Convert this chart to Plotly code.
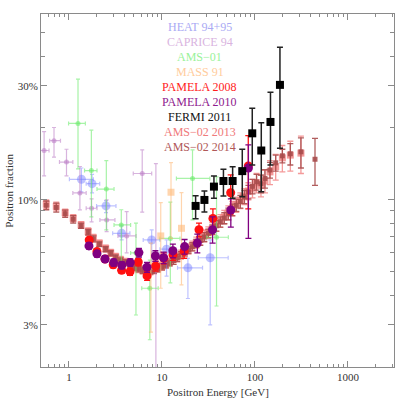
import plotly.graph_objects as go

# ---- data ----
heat_E = [1.36, 1.77, 2.5, 3.68, 7.75, 11.2, 19.0, 33.0]
heat_Elo = [1.01, 1.53, 1.98, 2.95, 6.28, 9.5, 14.7, 24.6]
heat_Ehi = [1.83, 2.14, 3.20, 4.52, 9.51, 13.5, 27.3, 51.5]
heat_f = [0.122, 0.117, 0.0944, 0.0725, 0.068, 0.0622, 0.052, 0.0573]
heat_hi = [0.136, 0.128, 0.0993, 0.078, 0.075, 0.068, 0.057, 0.068]
heat_lo = [0.108, 0.107, 0.0885, 0.068, 0.055, 0.048, 0.0387, 0.030]

caprice_E = [0.54, 0.69, 0.94, 1.31, 1.75, 2.54, 4.17, 6.13, 8.6]
caprice_Elo = [0.47, 0.62, 0.79, 1.10, 1.53, 2.15, 3.36, 4.91, 7.75]
caprice_Ehi = [0.61, 0.81, 1.10, 1.53, 2.0, 3.12, 5.26, 7.75, 9.6]
caprice_f = [0.161, 0.177, 0.144, 0.107, 0.0923, 0.0825, 0.0707, 0.129, 0.060]
caprice_hi = [0.193, 0.201, 0.163, 0.138, 0.101, 0.100, 0.0894, 0.162, 0.142]
caprice_lo = [0.126, 0.151, 0.126, 0.0908, 0.081, 0.0737, 0.060, 0.089, 0.012]

ams01_E = [1.25, 1.74, 2.52, 3.65, 5.25, 7.4, 12.3, 21.3, 38.6]
ams01_Elo = [0.99, 1.47, 2.0, 3.05, 4.6, 6.06, 9.5, 14.3, 30.3]
ams01_Ehi = [1.50, 2.0, 3.05, 4.6, 6.0, 9.1, 15.6, 32.7, 51.7]
ams01_f = [0.209, 0.1327, 0.111, 0.0786, 0.060, 0.0427, 0.069, 0.123, 0.0698]
ams01_hi = [0.320, 0.196, 0.146, 0.091, 0.080, 0.056, 0.098, 0.162, 0.125]
ams01_lo = [0.135, 0.085, 0.075, 0.0526, 0.033, 0.026, 0.045, 0.0825, 0.036]

mass_E = [7.6, 9.7, 12.5, 16.2]
mass_f = [0.053, 0.0707, 0.1077, 0.0761]
mass_hi = [0.066, 0.0974, 0.1432, 0.1073]
mass_lo = [0.028, 0.0427, 0.0691, 0.0441]

pam08_E = [1.65, 2.0, 2.44, 2.99, 3.68, 4.53, 5.56, 6.91, 8.55, 10.46, 13.14, 17.3, 25.0, 35.3, 54.8, 84.7]
pam08_f = [0.068, 0.0609, 0.0566, 0.0535, 0.0508, 0.0501, 0.055, 0.0481, 0.0529, 0.057, 0.0589, 0.061, 0.075, 0.0837, 0.1072, 0.1388]
pam08_err = [0.0015, 0.0015, 0.0015, 0.0015, 0.0015, 0.0017, 0.002, 0.002, 0.0025, 0.003, 0.003, 0.004, 0.005, 0.008, 0.02, 0.047]

pam10_E = [1.64, 2.0, 2.44, 3.02, 3.7, 4.56, 5.65, 6.9, 8.5, 10.4, 13.1, 17.5, 24.0, 35.0, 55.0, 85.0]
pam10_f = [0.0642, 0.0595, 0.0566, 0.0547, 0.0533, 0.0547, 0.0602, 0.0523, 0.0583, 0.0573, 0.0613, 0.0638, 0.066, 0.075, 0.0908, 0.136]
pam10_hi = [0.0662, 0.0613, 0.0584, 0.0565, 0.0551, 0.0567, 0.0627, 0.0548, 0.0613, 0.0605, 0.0653, 0.0683, 0.072, 0.085, 0.101, 0.17]
pam10_lo = [0.0622, 0.0577, 0.0548, 0.0529, 0.0515, 0.0527, 0.0577, 0.0498, 0.0553, 0.0541, 0.0573, 0.0593, 0.060, 0.066, 0.077, 0.069]

fermi_E = [23.0, 28.6, 36.2, 45.8, 57.5, 73.0, 93.5, 116.9, 146.8, 185.6]
fermi_f = [0.0944, 0.100, 0.1137, 0.120, 0.120, 0.132, 0.190, 0.161, 0.212, 0.303]
fermi_hi = [0.1042, 0.1091, 0.126, 0.1344, 0.1378, 0.163, 0.2419, 0.2106, 0.2822, 0.4353]
fermi_lo = [0.0835, 0.0891, 0.1016, 0.1039, 0.1016, 0.1032, 0.140, 0.1083, 0.140, 0.1645]

ams13_E = [0.57, 0.73, 0.91, 1.11, 1.35, 1.61, 1.83, 2.12, 2.48, 2.81, 3.18, 3.59, 4.07, 4.61,
           5.1, 5.6, 6.2, 6.85, 7.5, 8.2, 9.0, 10.0, 11.0, 12.1, 13.3, 14.6, 16.0, 17.6, 19.3,
           21.2, 23.4, 25.8, 28.5, 31.5, 34.8, 38.4, 42.4, 46.8, 51.7, 57.1, 63.0, 69.6, 77.0,
           85.0, 94.0, 104.0, 116.0, 128.0, 145.0, 167.0, 197.0, 240.0, 312.0]
ams13_f = [0.0960, 0.0940, 0.0885, 0.0838, 0.0786, 0.0738, 0.0693, 0.0659, 0.0627, 0.0601, 0.0578,
           0.0561, 0.0549, 0.0536, 0.0525, 0.0517, 0.0510, 0.0507, 0.0506, 0.0511, 0.0519, 0.0528,
           0.0539, 0.0550, 0.0563, 0.0577, 0.0592, 0.0608, 0.0623, 0.0643, 0.0664, 0.0683, 0.0707,
           0.0731, 0.0759, 0.0788, 0.0818, 0.0850, 0.0885, 0.0920, 0.0958, 0.0995, 0.1035, 0.1090,
           0.1120, 0.1180, 0.1150, 0.1200, 0.1310, 0.1380, 0.1500, 0.1540, 0.1570]
ams13_err = [0.004, 0.004, 0.003, 0.003, 0.0025, 0.0025, 0.0025, 0.002, 0.002, 0.002, 0.002,
             0.002, 0.002, 0.002, 0.002, 0.002, 0.002, 0.002, 0.002, 0.002, 0.002, 0.002,
             0.002, 0.002, 0.0025, 0.0025, 0.0025, 0.003, 0.003, 0.003, 0.0035, 0.0035, 0.004,
             0.004, 0.0045, 0.005, 0.005, 0.0055, 0.006, 0.0065, 0.007, 0.0075, 0.008, 0.009,
             0.010, 0.011, 0.012, 0.013, 0.015, 0.017, 0.019, 0.022, 0.028]

ams14_E = [0.57, 0.73, 0.91, 1.11, 1.35, 1.61, 1.83, 2.12, 2.48, 2.81, 3.18, 3.59, 4.07, 4.61,
           5.1, 5.6, 6.2, 6.85, 7.5, 8.2, 9.0, 10.0, 11.0, 12.1, 13.3, 14.6, 16.0, 17.6, 19.3,
           21.2, 23.4, 25.8, 28.5, 31.5, 34.8, 38.4, 42.4, 46.8, 51.7, 57.1, 63.0, 69.6, 77.0,
           85.0, 94.0, 104.0, 116.0, 128.0, 145.0, 167.0, 197.0, 240.0, 312.0, 442.0]
ams14_f = [0.0950, 0.0930, 0.0876, 0.0830, 0.0780, 0.0732, 0.0687, 0.0653, 0.0622, 0.0598, 0.0574,
           0.0557, 0.0547, 0.0533, 0.0522, 0.0515, 0.0508, 0.0505, 0.0504, 0.0508, 0.0515, 0.0525,
           0.0535, 0.0545, 0.0558, 0.0572, 0.0588, 0.0603, 0.0618, 0.0637, 0.0658, 0.0676, 0.0700,
           0.0725, 0.0752, 0.0780, 0.0810, 0.0840, 0.0875, 0.0910, 0.0950, 0.0985, 0.1030, 0.1080,
           0.1140, 0.1190, 0.1170, 0.1230, 0.1335, 0.1430, 0.1530, 0.1560, 0.1590, 0.1480]
ams14_err = [0.004, 0.004, 0.003, 0.003, 0.002, 0.002, 0.002, 0.0015, 0.0015, 0.0015, 0.0015,
             0.0015, 0.0015, 0.0015, 0.0015, 0.0015, 0.0015, 0.0015, 0.0015, 0.0015, 0.0015, 0.0015,
             0.0015, 0.0015, 0.002, 0.002, 0.002, 0.002, 0.002, 0.0025, 0.0025, 0.003, 0.003,
             0.003, 0.0035, 0.004, 0.004, 0.0045, 0.005, 0.005, 0.0055, 0.006, 0.0065, 0.007,
             0.008, 0.009, 0.010, 0.011, 0.010, 0.011, 0.010, 0.016, 0.023, 0.033]

legend_labels = ["HEAT 94+95", "CAPRICE 94", "AMS\u221201", "MASS 91", "PAMELA 2008",
                 "PAMELA 2010", "FERMI 2011", "AMS\u221202 2013", "AMS\u221202 2014"]
legend_colors = ["#aaaaf4", "#d9b4e0", "#99f299", "#ffcc9c", "#ff1c1c",
                 "#8e1a8e", "#111111", "#f07a7a", "#b05858"]

x_major = [1, 10, 100, 1000]
x_minor = [m * d for d in (0.1, 1, 10, 100, 1000) for m in range(2, 10)]
y_major = [0.03, 0.1, 0.3]
y_major_text = ["3%", "10%", "30%"]
y_minor = [0.02, 0.04, 0.05, 0.06, 0.07, 0.08, 0.09, 0.2, 0.4, 0.5]

FONT = "Liberation Serif"


def diff(a, b):
    return [x - y for x, y in zip(a, b)]


def ebar(color, up, down=None, width=1, cap=2):
    d = dict(type="data", array=up, color=color, thickness=width, width=cap)
    if down is not None:
        d["symmetric"] = False
        d["arrayminus"] = down
    return d


fig = go.Figure()

# AMS-02 2013 / 2014
fig.add_trace(go.Scatter(
    x=ams13_E, y=ams13_f, mode="markers",
    marker=dict(symbol="square", size=7, color="rgba(240,120,120,0.75)"),
    error_y=ebar("rgba(240,120,120,0.75)", ams13_err, width=1.3, cap=3)))
fig.add_trace(go.Scatter(
    x=ams14_E, y=ams14_f, mode="markers",
    marker=dict(symbol="square", size=5, color="rgba(168,76,76,0.9)"),
    error_y=ebar("rgba(168,76,76,0.9)", ams14_err, width=1.3, cap=3)))

# HEAT
c = "rgba(110,120,255,0.45)"
fig.add_trace(go.Scatter(
    x=heat_E, y=heat_f, mode="markers",
    marker=dict(size=9, color=c),
    error_y=ebar(c, diff(heat_hi, heat_f), diff(heat_f, heat_lo), 1.2, 2),
    error_x=ebar(c, diff(heat_Ehi, heat_E), diff(heat_E, heat_Elo), 1.2, 2)))

# CAPRICE
c = "rgba(190,130,200,0.6)"
fig.add_trace(go.Scatter(
    x=caprice_E, y=caprice_f, mode="markers",
    marker=dict(size=5, color=c),
    error_y=ebar(c, diff(caprice_hi, caprice_f), diff(caprice_f, caprice_lo), 1.2, 2),
    error_x=ebar(c, diff(caprice_Ehi, caprice_E), diff(caprice_E, caprice_Elo), 1.2, 2)))

# AMS-01
c = "rgba(110,235,110,0.6)"
fig.add_trace(go.Scatter(
    x=ams01_E, y=ams01_f, mode="markers",
    marker=dict(size=5, color=c),
    error_y=ebar(c, diff(ams01_hi, ams01_f), diff(ams01_f, ams01_lo), 1.2, 2),
    error_x=ebar(c, diff(ams01_Ehi, ams01_E), diff(ams01_E, ams01_Elo), 1.2, 2)))

# MASS 91
c = "rgba(255,185,120,0.6)"
fig.add_trace(go.Scatter(
    x=mass_E, y=mass_f, mode="markers",
    marker=dict(symbol="square", size=7, color=c),
    error_y=ebar(c, diff(mass_hi, mass_f), diff(mass_f, mass_lo), 1.2, 2)))

# PAMELA 2008
fig.add_trace(go.Scatter(
    x=pam08_E, y=pam08_f, mode="markers",
    marker=dict(size=9, color="#ff1010"),
    error_y=ebar("#ff1010", pam08_err, width=1.3, cap=3)))

# PAMELA 2010
fig.add_trace(go.Scatter(
    x=pam10_E, y=pam10_f, mode="markers",
    marker=dict(size=9, color="#800080"),
    error_y=ebar("#800080", diff(pam10_hi, pam10_f), diff(pam10_f, pam10_lo), 1.3, 3)))

# FERMI 2011
fig.add_trace(go.Scatter(
    x=fermi_E, y=fermi_f, mode="markers",
    marker=dict(symbol="square", size=8, color="#000000"),
    error_y=ebar("#222222", diff(fermi_hi, fermi_f), diff(fermi_f, fermi_lo), 1.5, 3)))

# text-only legend
for i, (lab, col) in enumerate(zip(legend_labels, legend_colors)):
    fig.add_annotation(x=0.45, y=(367.3 - (27.5 + 15 * i)) / 353, xref="paper", yref="paper",
                       text=lab, showarrow=False, xanchor="center", yanchor="middle",
                       font=dict(family=FONT, size=12, color=col))

fig.update_layout(
    width=399, height=403,
    margin=dict(l=41, r=5, t=14, b=36),
    paper_bgcolor="white", plot_bgcolor="white",
    showlegend=False,
    font=dict(family=FONT, size=11, color="#333333"),
    annotations=list(fig.layout.annotations) + [
        dict(x=0.5, y=-0.072, xref="paper", yref="paper", text="Positron Energy [GeV]",
             showarrow=False, xanchor="center", yanchor="middle",
             font=dict(family=FONT, size=11, color="#333333")),
        dict(x=-0.093, y=0.5, xref="paper", yref="paper", text="Positron fraction",
             showarrow=False, textangle=-90, xanchor="center", yanchor="middle",
             font=dict(family=FONT, size=11, color="#333333")),
    ],
)

axis_common = dict(
    type="log", showgrid=False, zeroline=False,
    showline=True, linecolor="#8a8a8a", linewidth=1, mirror="ticks",
    ticks="inside", ticklen=6, tickcolor="#8a8a8a", tickwidth=1,
    tickfont=dict(family=FONT, size=11, color="#333333"),
)
fig.update_xaxes(**axis_common, range=[-0.301, 3.495], tickmode="array",
                 tickvals=x_major, ticktext=[str(v) for v in x_major],
                 minor=dict(tickmode="array", tickvals=x_minor, ticks="inside",
                            ticklen=3, tickcolor="#8a8a8a", showgrid=False))
fig.update_yaxes(**axis_common, range=[-1.699, -0.222], tickmode="array",
                 tickvals=y_major, ticktext=y_major_text,
                 minor=dict(tickmode="array", tickvals=y_minor, ticks="inside",
                            ticklen=4, tickcolor="#8a8a8a", showgrid=False))

# drop the page's default body margin so the figure sits at the window's corner
fig.write_html("out.html", config={"displayModeBar": False},
               post_script="document.body.style.margin = '0';")
